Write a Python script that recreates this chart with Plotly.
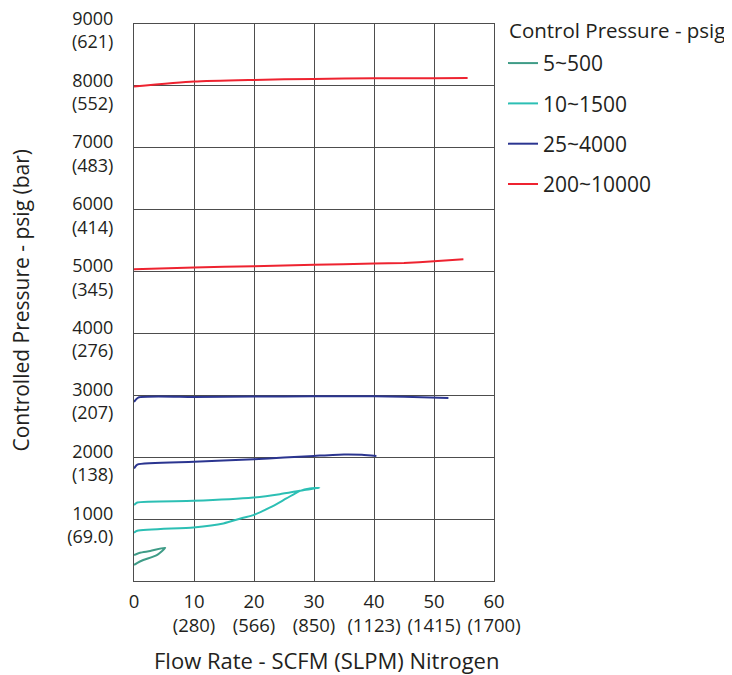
import plotly.graph_objects as go

# ---- data ----
green_x = [0, 0.5, 1.55, 3.8, 5.2, 2.7, 1, 0]
green_y = [258, 290, 339, 419, 538, 484, 457, 419]

cyan_x = [0, 0.55, 9.9, 14.9, 18.2, 19.9, 22.7, 25.4, 27.7, 29.3, 30.9,
          28.2, 24.3, 19.9, 9.9, 0.55, 0]
cyan_y = [779, 811, 866, 930, 1021, 1065, 1188, 1334, 1457, 1495, 1505,
          1468, 1403, 1350, 1295, 1269, 1226]

navy_x = [0, 0.55, 10, 20, 25, 30, 35, 38, 40.4, None,
          0, 0.7, 10, 20, 30, 40, 45, 52.4]
navy_y = [1818, 1882, 1925, 1968, 1995, 2021, 2045, 2040, 2021, None,
          2892, 2963, 2973, 2980, 2984, 2984, 2979, 2957]

red_x = [0, 10, 20, 30, 40, 45, 50, 54.9, None,
         0, 10, 20, 30, 40, 50, 55.6]
red_y = [5037, 5065, 5086, 5108, 5129, 5140, 5166, 5199, None,
         7989, 8070, 8097, 8113, 8124, 8124, 8129]

series_names = ["5~500", "10~1500", "25~4000", "200~10000"]
series_colors = ["#3f9c87", "#2cbfb4", "#2b3590", "#ee2330"]

x_tickvals = [0, 10, 20, 30, 40, 50, 60]
x_ticktext = ["0", "10<br>(280)", "20<br>(566)", "30<br>(850)", "40<br>(1123)",
              "50<br>(1415)", "60<br>(1700)"]
y_tickvals = [1000, 2000, 3000, 4000, 5000, 6000, 7000, 8000, 9000]
y_ticktext = ["1000<br>(69.0)", "2000<br>(138)", "3000<br>(207)", "4000<br>(276)",
              "5000<br>(345)", "6000<br>(414)", "7000<br>(483)", "8000<br>(552)",
              "9000<br>(621)"]

FONT = "Open Sans"
TXT = "#231f20"

fig = go.Figure()
for i, (xs, ys) in enumerate([(green_x, green_y), (cyan_x, cyan_y),
                              (navy_x, navy_y), (red_x, red_y)]):
    fig.add_trace(go.Scatter(
        x=xs, y=ys, mode="lines", name=series_names[i],
        legendgroup=series_names[i],
        line=dict(color=series_colors[i], width=2, shape="spline", smoothing=0.6),
        connectgaps=False,
    ))

grid = "#4d4d4d"
# page body has an 8px default margin, so the figure is sized to the visible area
fig.update_layout(
    width=724, height=667,
    margin=dict(l=126, r=238, t=16, b=94, autoexpand=False),
    paper_bgcolor="white", plot_bgcolor="white",
    font=dict(family=FONT, size=18, color=TXT),
    showlegend=True,
    legend=dict(
        x=1.025, y=0.966, xanchor="left", yanchor="top",
        font=dict(size=21, color=TXT),
        itemwidth=30, tracegroupgap=10,
        bgcolor="rgba(0,0,0,0)",
    ),
    xaxis=dict(
        range=[0, 60], tickmode="array", tickvals=x_tickvals, ticktext=x_ticktext,
        showgrid=True, gridcolor=grid, gridwidth=1,
        showline=True, linecolor=grid, linewidth=1, mirror=True,
        zeroline=False, ticks="", ticklabelstandoff=4, automargin=False,
        ticklabeloverflow="allow",
        tickfont=dict(size=18.5, color=TXT),
    ),
    yaxis=dict(
        range=[0, 9000], tickmode="array", tickvals=y_tickvals, ticktext=y_ticktext,
        showgrid=True, gridcolor=grid, gridwidth=1,
        showline=True, linecolor=grid, linewidth=1, mirror=True,
        zeroline=False, ticks="", ticklabelstandoff=16, ticklabelshift=6,
        automargin=False, ticklabeloverflow="allow",
        tickfont=dict(size=18, color=TXT),
    ),
    annotations=[
        dict(text="Flow Rate - SCFM (SLPM) Nitrogen", xref="paper", yref="paper",
             x=0.536, y=-0.1418, xanchor="center", yanchor="middle", showarrow=False,
             font=dict(size=22, color=TXT)),
        dict(text="Controlled Pressure - psig (bar)", xref="paper", yref="paper",
             x=-0.313, y=0.504, xanchor="center", yanchor="middle", showarrow=False,
             textangle=-90, font=dict(size=21, color=TXT)),
        dict(text="Control Pressure - psig", xref="paper", yref="paper",
             x=1.036, y=0.989, xanchor="left", yanchor="middle", showarrow=False,
             font=dict(size=20.5, color=TXT)),
    ],
)

fig.write_html("out.html")
